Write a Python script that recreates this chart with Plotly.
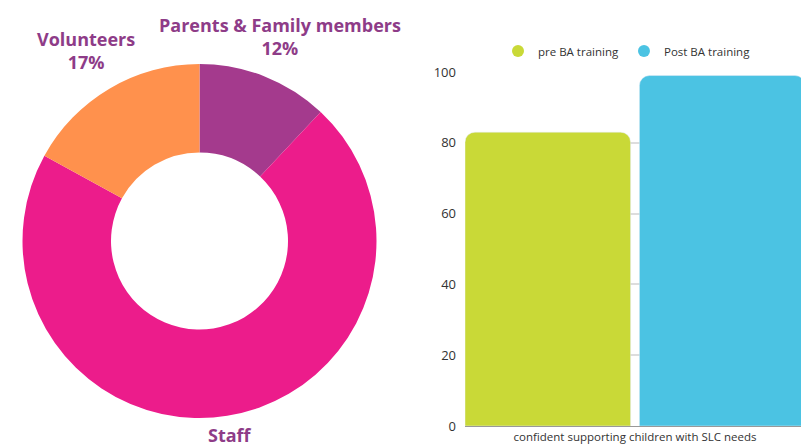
import plotly.graph_objects as go

# Donut data
groups = ["Parents & Family members", "Staff", "Volunteers"]
shares = [12, 71, 17]
group_colors = ["#A43A8D", "#EC1C8B", "#FF914D"]

# Bar data
category = ["confident supporting children with SLC needs"]
series_names = ["pre BA training", "Post BA training"]
series_values = [[83], [99]]
series_colors = ["#C9D937", "#4BC3E3"]
y_ticks = [0, 20, 40, 60, 80, 100]

FONT = "Open Sans"
LABEL_COLOR = "#8E3C88"
W, H = 809, 448
OFF = 8  # page body margin


def fx(px):
    return (px - OFF) / W


def fy(py):
    return 1 - (py - OFF) / H


fig = go.Figure()

fig.add_trace(go.Pie(
    labels=groups, values=shares, hole=0.5, sort=False, direction="clockwise",
    rotation=0, marker=dict(colors=group_colors, line=dict(width=0)),
    textinfo="none", hoverinfo="label+percent", showlegend=False,
    domain=dict(x=[fx(22), fx(377)], y=[fy(418), fy(64)]),
))

bar_width = 0.487
bar_offsets = [-0.5, 0.5 - bar_width]
for name, vals, col, off in zip(series_names, series_values, series_colors, bar_offsets):
    fig.add_trace(go.Bar(
        x=category, y=vals, name=name, marker=dict(color=col, cornerradius=10),
        width=bar_width, offset=off, showlegend=False, xaxis="x", yaxis="y",
    ))
    fig.add_trace(go.Scatter(
        x=[None], y=[None], mode="markers", name=name,
        marker=dict(color=col, size=13, symbol="circle"), xaxis="x", yaxis="y",
    ))

# Donut labels
label_pos = {
    "Parents & Family members": (280, 36, True),
    "Volunteers": (86, 50, True),
    "Staff": (230, 435, False),
}
for g, s in zip(groups, shares):
    px, py, show_pct = label_pos[g]
    txt = f"<b>{g}</b><br><b>{s}%</b>" if show_pct else f"<b>{g}</b>"
    fig.add_annotation(
        x=fx(px), y=fy(py), xref="paper", yref="paper", text=txt, showarrow=False,
        font=dict(family=FONT, size=18, color=LABEL_COLOR), xanchor="center", yanchor="middle",
    )

fig.update_layout(
    width=W, height=H, margin=dict(l=0, r=0, t=0, b=0, autoexpand=False),
    paper_bgcolor="white", plot_bgcolor="white",
    font=dict(family=FONT, size=12, color="#333333"),
    barmode="overlay",
    xaxis=dict(domain=[fx(465), fx(805)], range=[-0.5, 0.5], showgrid=False, showline=True,
               linecolor="#999999", linewidth=1, ticks="", automargin=False,
               tickfont=dict(size=11.5, color="#333333")),
    yaxis=dict(domain=[fy(426), fy(72)], range=[0, 100], tickvals=y_ticks,
               showgrid=True, gridcolor="#DDDDDD", gridwidth=1.5, zeroline=False, automargin=False,
               showline=False, ticks="", tickfont=dict(size=13, color="#333333"), ticklabelstandoff=8),
    legend=dict(orientation="h", x=fx(627), y=fy(51), xanchor="center", yanchor="middle",
                font=dict(size=11.5, color="#333333"), itemsizing="constant", itemwidth=30,
                tracegroupgap=0),
)

fig.write_html("out.html")
